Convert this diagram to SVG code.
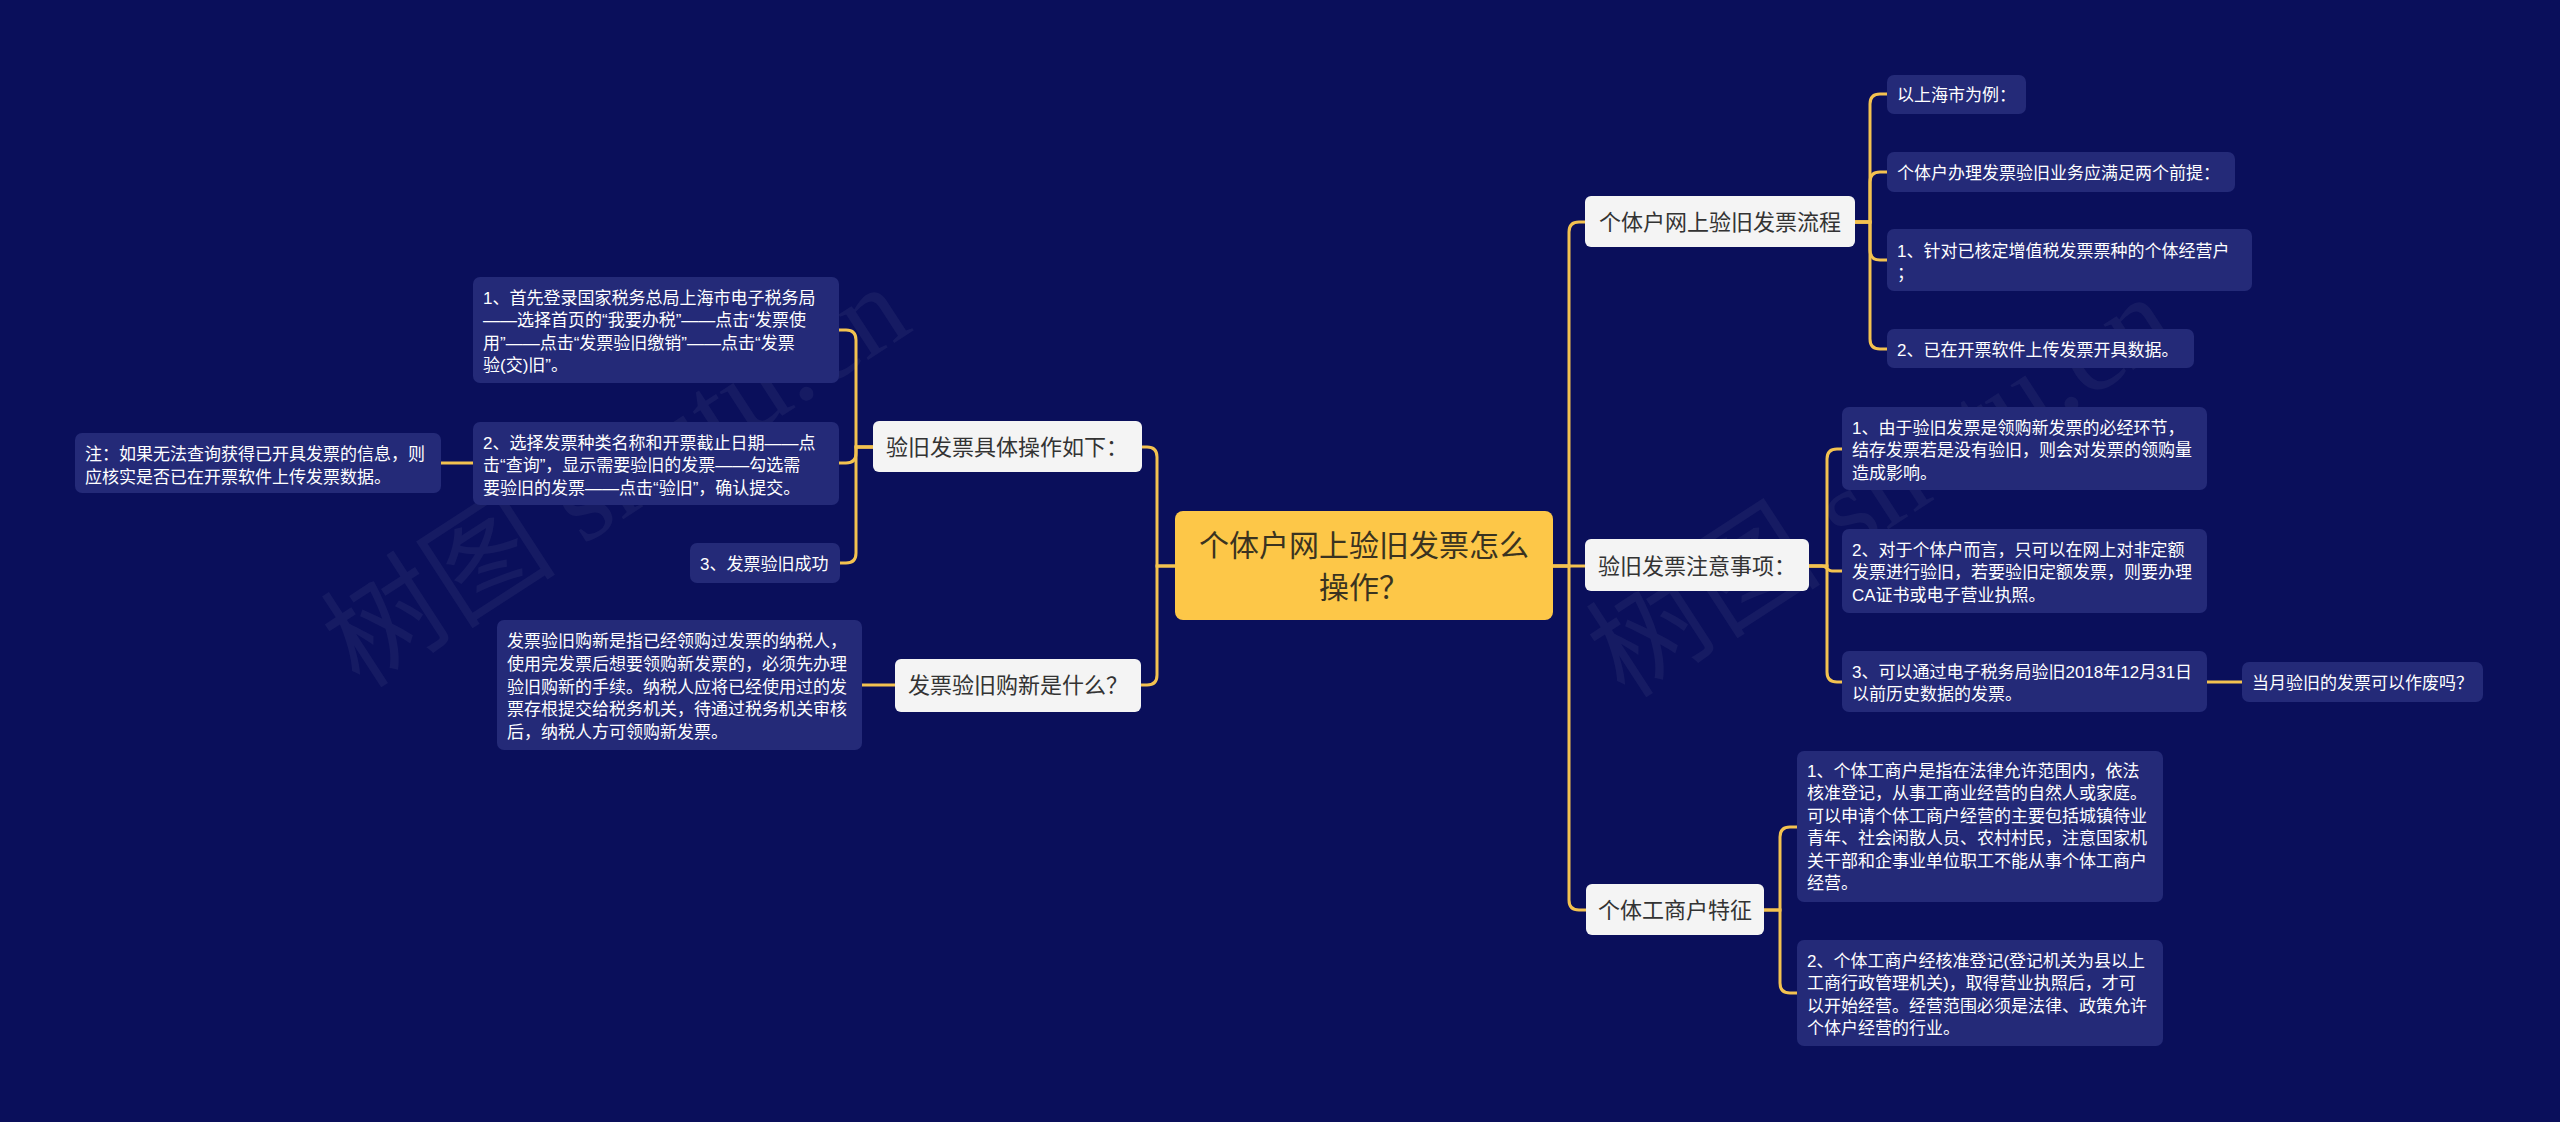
<svg xmlns="http://www.w3.org/2000/svg" width="2560" height="1122" viewBox="0 0 2560 1122">
<style>
.bg{fill:#0a0f5b}
.wm{font-family:"Liberation Serif","Noto Sans CJK SC",serif;font-size:118px;fill:#ffffff;fill-opacity:0.05}
.c{fill:#fdc748}
.l1{fill:#f4f4f4}
.l2{fill:#242a78}
.tc{font-family:"Liberation Sans","Noto Sans CJK SC",sans-serif;font-size:30px;fill:#3a3320;text-anchor:middle}
.t1{font-family:"Liberation Sans","Noto Sans CJK SC",sans-serif;font-size:22px;fill:#333333;text-anchor:middle}
.t2{font-family:"Liberation Sans","Noto Sans CJK SC",sans-serif;font-size:17px;fill:#ffffff}
.ln{fill:none;stroke:#f3c250;stroke-width:3;stroke-linecap:round}
</style>
<rect class="bg" x="0" y="0" width="2560" height="1122"/>
<text class="wm" x="360" y="690" transform="rotate(-33 360 690)">树图 shutu.cn</text>
<text class="wm" x="1625" y="700" transform="rotate(-33 1625 700)">树图 shutu.cn</text>
<g id="connectors">
<path class="ln" d="M1553,566 H1569 V232 Q1569,222 1579,222 H1585"/>
<path class="ln" d="M1553,566 H1585"/>
<path class="ln" d="M1553,566 H1569 V900 Q1569,910 1579,910 H1586"/>
<path class="ln" d="M1175,566 H1157 V457 Q1157,447 1147,447 H1142"/>
<path class="ln" d="M1175,566 H1157 V675 Q1157,685 1147,685 H1141"/>
<path class="ln" d="M1855,222 H1870 V104 Q1870,94 1880,94 H1887"/>
<path class="ln" d="M1855,222 H1870 V182 Q1870,172 1880,172 H1887"/>
<path class="ln" d="M1855,222 H1870 V250 Q1870,260 1880,260 H1887"/>
<path class="ln" d="M1855,222 H1870 V339 Q1870,349 1880,349 H1887"/>
<path class="ln" d="M1809,566 H1827 V459 Q1827,449 1837,449 H1842"/>
<path class="ln" d="M1809,566 H1822 C1827,566 1827,571 1832,571 H1842"/>
<path class="ln" d="M1809,566 H1827 V672 Q1827,682 1837,682 H1842"/>
<path class="ln" d="M2207,682 H2242"/>
<path class="ln" d="M1764,910 H1780 V837 Q1780,827 1790,827 H1797"/>
<path class="ln" d="M1764,910 H1780 V983 Q1780,993 1790,993 H1797"/>
<path class="ln" d="M873,447 H856 V340 Q856,330 846,330 H839"/>
<path class="ln" d="M873,447 H856 V453 Q856,463 846,463 H839"/>
<path class="ln" d="M873,447 H856 V553 Q856,563 846,563 H839"/>
<path class="ln" d="M473,463 H441"/>
<path class="ln" d="M895,685 H862"/>
</g>
<g id="root">
<rect class="c" x="1175" y="511" width="378" height="109" rx="8"/>
<text class="tc" x="1364" y="556">个体户网上验旧发票怎么</text>
<text class="tc" x="1364" y="598">操作？</text>
</g>
<g id="n-liucheng">
<rect class="l1" x="1585" y="196" width="270" height="51" rx="6"/>
<text class="t1" x="1720" y="230">个体户网上验旧发票流程</text>
</g>
<g id="n-a1">
<rect class="l2" x="1887" y="75" width="139" height="39" rx="7"/>
<text class="t2" x="1897" y="101">以上海市为例：</text>
</g>
<g id="n-a2">
<rect class="l2" x="1887" y="152" width="348" height="40" rx="7"/>
<text class="t2" x="1897" y="178.5">个体户办理发票验旧业务应满足两个前提：</text>
</g>
<g id="n-a3">
<rect class="l2" x="1887" y="229" width="365" height="62" rx="7"/>
<text class="t2" x="1897" y="256.5">1、针对已核定增值税发票票种的个体经营户</text>
<text class="t2" x="1897" y="278.5">；</text>
</g>
<g id="n-a4">
<rect class="l2" x="1887" y="329" width="307" height="39" rx="7"/>
<text class="t2" x="1897" y="355.5">2、已在开票软件上传发票开具数据。</text>
</g>
<g id="n-zhuyi">
<rect class="l1" x="1585" y="539" width="224" height="52" rx="6"/>
<text class="t1" x="1697" y="574">验旧发票注意事项：</text>
</g>
<g id="n-b1">
<rect class="l2" x="1842" y="407" width="365" height="83" rx="7"/>
<text class="t2" x="1852" y="433.5">1、由于验旧发票是领购新发票的必经环节，</text>
<text class="t2" x="1852" y="456">结存发票若是没有验旧，则会对发票的领购量</text>
<text class="t2" x="1852" y="478.5">造成影响。</text>
</g>
<g id="n-b2">
<rect class="l2" x="1842" y="529" width="365" height="84" rx="7"/>
<text class="t2" x="1852" y="555.5">2、对于个体户而言，只可以在网上对非定额</text>
<text class="t2" x="1852" y="578">发票进行验旧，若要验旧定额发票，则要办理</text>
<text class="t2" x="1852" y="600.5">CA证书或电子营业执照。</text>
</g>
<g id="n-b3">
<rect class="l2" x="1842" y="651" width="365" height="61" rx="7"/>
<text class="t2" x="1852" y="677.5">3、可以通过电子税务局验旧2018年12月31日</text>
<text class="t2" x="1852" y="699.5">以前历史数据的发票。</text>
</g>
<g id="n-b3c">
<rect class="l2" x="2242" y="662" width="241" height="40" rx="7"/>
<text class="t2" x="2252" y="688.5">当月验旧的发票可以作废吗？</text>
</g>
<g id="n-tezheng">
<rect class="l1" x="1586" y="884" width="178" height="51" rx="6"/>
<text class="t1" x="1675" y="918">个体工商户特征</text>
</g>
<g id="n-c1">
<rect class="l2" x="1797" y="751" width="366" height="151" rx="7"/>
<text class="t2" x="1807" y="776.5">1、个体工商户是指在法律允许范围内，依法</text>
<text class="t2" x="1807" y="799">核准登记，从事工商业经营的自然人或家庭。</text>
<text class="t2" x="1807" y="821.5">可以申请个体工商户经营的主要包括城镇待业</text>
<text class="t2" x="1807" y="844">青年、社会闲散人员、农村村民，注意国家机</text>
<text class="t2" x="1807" y="866.5">关干部和企事业单位职工不能从事个体工商户</text>
<text class="t2" x="1807" y="889">经营。</text>
</g>
<g id="n-c2">
<rect class="l2" x="1797" y="940" width="366" height="106" rx="7"/>
<text class="t2" x="1807" y="966.5">2、个体工商户经核准登记(登记机关为县以上</text>
<text class="t2" x="1807" y="989">工商行政管理机关)，取得营业执照后，才可</text>
<text class="t2" x="1807" y="1011.5">以开始经营。经营范围必须是法律、政策允许</text>
<text class="t2" x="1807" y="1034">个体户经营的行业。</text>
</g>
<g id="n-caozuo">
<rect class="l1" x="873" y="421" width="269" height="51" rx="6"/>
<text class="t1" x="1007" y="455">验旧发票具体操作如下：</text>
</g>
<g id="n-d1">
<rect class="l2" x="473" y="277" width="366" height="106" rx="7"/>
<text class="t2" x="483" y="303.5">1、首先登录国家税务总局上海市电子税务局</text>
<text class="t2" x="483" y="326">——选择首页的“我要办税”——点击“发票使</text>
<text class="t2" x="483" y="348.5">用”——点击“发票验旧缴销”——点击“发票</text>
<text class="t2" x="483" y="371">验(交)旧”。</text>
</g>
<g id="n-d2">
<rect class="l2" x="473" y="422" width="366" height="83" rx="7"/>
<text class="t2" x="483" y="448.5">2、选择发票种类名称和开票截止日期——点</text>
<text class="t2" x="483" y="471">击“查询”，显示需要验旧的发票——勾选需</text>
<text class="t2" x="483" y="493.5">要验旧的发票——点击“验旧”，确认提交。</text>
</g>
<g id="n-d2c">
<rect class="l2" x="75" y="433" width="366" height="60" rx="7"/>
<text class="t2" x="85" y="460">注：如果无法查询获得已开具发票的信息，则</text>
<text class="t2" x="85" y="483">应核实是否已在开票软件上传发票数据。</text>
</g>
<g id="n-d3">
<rect class="l2" x="690" y="543" width="150" height="40" rx="7"/>
<text class="t2" x="700" y="569.5">3、发票验旧成功</text>
</g>
<g id="n-goux">
<rect class="l1" x="895" y="659" width="246" height="53" rx="6"/>
<text class="t1" x="1018" y="693">发票验旧购新是什么？</text>
</g>
<g id="n-e1">
<rect class="l2" x="497" y="620" width="365" height="130" rx="7"/>
<text class="t2" x="507" y="646.5">发票验旧购新是指已经领购过发票的纳税人，</text>
<text class="t2" x="507" y="669.5">使用完发票后想要领购新发票的，必须先办理</text>
<text class="t2" x="507" y="692.5">验旧购新的手续。纳税人应将已经使用过的发</text>
<text class="t2" x="507" y="715">票存根提交给税务机关，待通过税务机关审核</text>
<text class="t2" x="507" y="738">后，纳税人方可领购新发票。</text>
</g>
</svg>
